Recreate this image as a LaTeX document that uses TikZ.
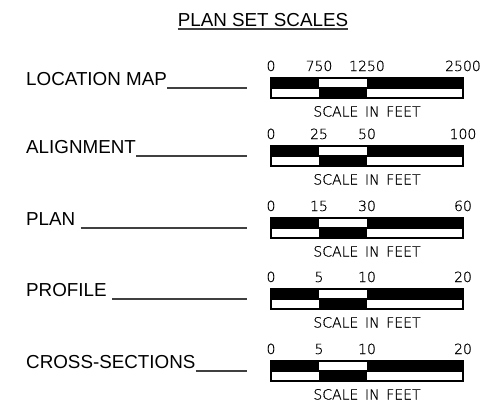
\documentclass[tikz,border=0pt]{standalone}
\usepackage{fontspec}
\setmainfont{Liberation Sans}
\newfontfamily\cadfont{DejaVu Sans ExtraLight}[WordSpace=1.5,FakeBold=0.6]
\usetikzlibrary{calc}

\begin{document}
\begin{tikzpicture}[x=1pt,y=-1pt,
		planlabel/.style={anchor=base west,inner sep=0pt,font=\fontsize{18.8}{21}\selectfont},
		scalenum/.style={anchor=base,inner sep=0pt,font=\cadfont\fontsize{14}{16}\selectfont},
		barline/.style={line width=1.2pt},
		rule/.style={line width=1.3pt,black!75}]
	\useasboundingbox (0,0) rectangle (490,413);
	\node[anchor=base,inner sep=0pt,font=\fontsize{18.8}{21}\selectfont] (title) at (263,26) {PLAN SET SCALES};
	\draw[rule] ($(title.base west)+(0,3)$) -- ($(title.base east)+(0,3)$);
	
	\foreach \name/\gap/\top/\a/\b/\c/\d [count=\i] in {LOCATION MAP/0/78/0/750/1250/2500,
			ALIGNMENT/0/146/0/25/50/100, PLAN/5.2/218/0/15/30/60,
			PROFILE/5.2/289/0/5/10/20, CROSS-SECTIONS/0/361/0/5/10/20}{
		% label with its rule
		\node[planlabel] (lab\i) at (26,\top+7.5) {\name};
		\coordinate (end\i) at (247,\top+10);
		\draw[rule] ($(lab\i.base east)+(\gap,2.5)$) -- (end\i);
		% the bar
		\fill (271,\top) rectangle (319,\top+10);
		\fill (367,\top) rectangle (463,\top+10);
		\fill (319,\top+10) rectangle (367,\top+20);
		\draw[barline] (271,\top) rectangle (463,\top+20);
		\draw[barline] (271,\top+10) -- (463,\top+10);
		% figures
		\node[scalenum] (a\i) at (271,\top-7) {\a};
		\node[scalenum] (b\i) at (319,\top-7) {\b};
		\node[scalenum] (c\i) at (367,\top-7) {\c};
		\node[scalenum] (d\i) at (463,\top-7) {\d};
		\node[scalenum] (feet\i) at (367,\top+38.5) {SCALE IN FEET};
	}
\end{tikzpicture}
\end{document}
